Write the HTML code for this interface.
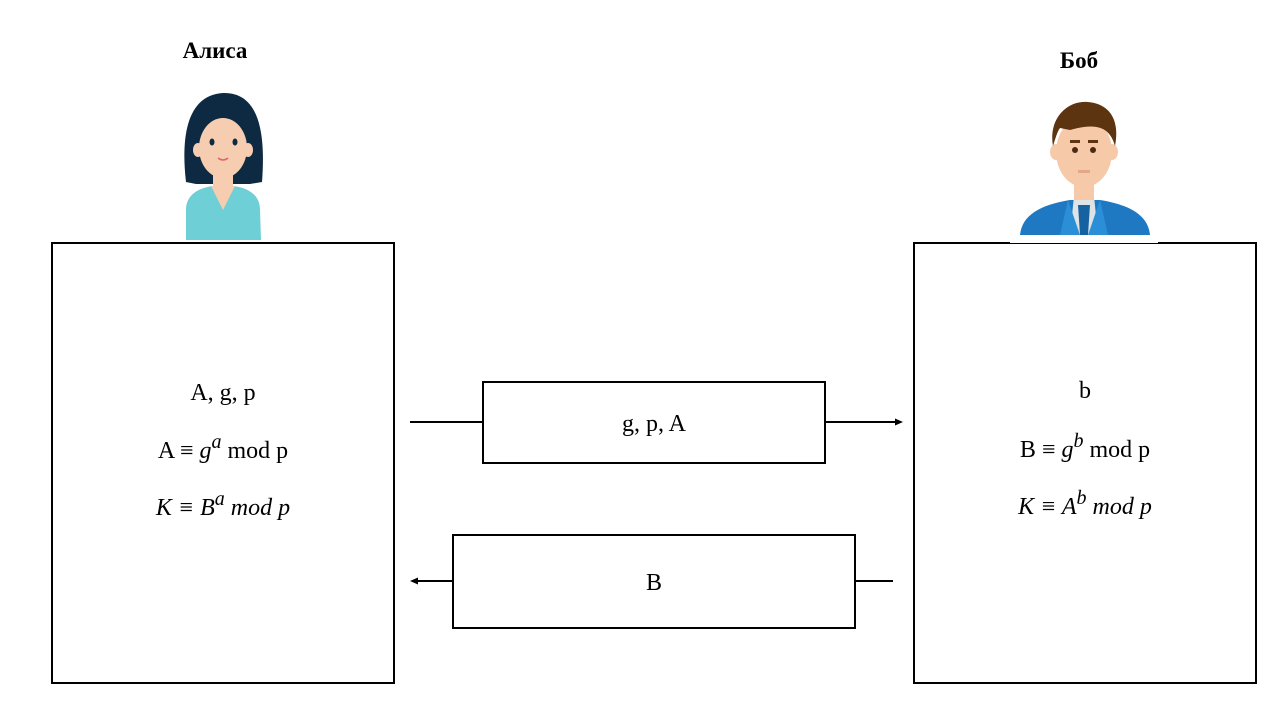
<!DOCTYPE html>
<html><head><meta charset="utf-8"><style>
html,body{margin:0;padding:0;background:#fff;width:1280px;height:720px;overflow:hidden}
svg text{font-family:"Liberation Serif",serif;fill:#000}
</style></head><body>
<svg width="1280" height="720" viewBox="0 0 1280 720" xmlns="http://www.w3.org/2000/svg">
<g fill="none" stroke="#000" stroke-width="2">
<rect x="52" y="243" width="342" height="440"/>
<rect x="914" y="243" width="342" height="440"/>
<rect x="483" y="382" width="342" height="81"/>
<rect x="453" y="535" width="402" height="93"/>
<line x1="410" y1="422" x2="483" y2="422"/>
<line x1="825" y1="422" x2="896" y2="422"/>
<line x1="855" y1="581" x2="893" y2="581"/>
<line x1="453" y1="581" x2="417" y2="581"/>
</g>
<polygon points="903,422 895,418.5 895,425.5" fill="#000"/>
<polygon points="410,581 418,577.5 418,584.5" fill="#000"/>

<text x="215" y="58" font-size="23" font-weight="bold" text-anchor="middle">Алиса</text>
<text x="1079" y="68" font-size="23" font-weight="bold" text-anchor="middle">Боб</text>

<!-- Alice -->
<g>
<path d="M186 182 C180 130 190 95 223 93 C258 92 266 130 262 182 L250 184 L196 184 Z" fill="#0d2a42"/>
<rect x="213" y="168" width="20" height="22" fill="#f6cdb0"/>
<path d="M186 240 L186 210 C186 195 198 188 213 186 L233 186 C250 188 260 196 260 210 L261 240 Z" fill="#6ecfd6"/>
<path d="M211 186 L223 210 L235 186 Z" fill="#f6cdb0"/>
<ellipse cx="223" cy="148" rx="24" ry="30" fill="#f6cdb0"/>
<ellipse cx="198" cy="150" rx="5" ry="7" fill="#f6cdb0"/>
<ellipse cx="248" cy="150" rx="5" ry="7" fill="#f6cdb0"/>
<path d="M199 140 C205 112 225 110 250 132 C245 110 235 100 220 102 C205 104 197 120 199 140Z" fill="#0d2a42"/>
<ellipse cx="212" cy="142" rx="2.5" ry="3.5" fill="#0d2a42"/>
<ellipse cx="235" cy="142" rx="2.5" ry="3.5" fill="#0d2a42"/>
<path d="M218 158 Q223 162 228 158" stroke="#d66" stroke-width="1.5" fill="none"/>
</g>

<!-- Bob -->
<g>
<rect x="1010" y="236" width="148" height="7" fill="#fff"/>
<path d="M1020 235 C1022 215 1040 205 1070 200 L1100 200 C1130 205 1148 215 1150 235 Z" fill="#1e78c2"/>
<path d="M1074 196 L1094 196 L1098 235 L1070 235 Z" fill="#dfe3e6"/>
<rect x="1074" y="180" width="20" height="20" fill="#f6c9a8"/>
<path d="M1078 205 L1090 205 L1088 235 L1080 235 Z" fill="#1662a0"/>
<path d="M1068 200 L1080 235 L1060 235 Z" fill="#2b8fd8"/>
<path d="M1100 200 L1088 235 L1108 235 Z" fill="#2b8fd8"/>
<ellipse cx="1084" cy="152" rx="28" ry="35" fill="#f6c9a8"/>
<ellipse cx="1056" cy="152" rx="6" ry="8" fill="#f6c9a8"/>
<ellipse cx="1112" cy="152" rx="6" ry="8" fill="#f6c9a8"/>
<path d="M1053 146 C1048 118 1068 100 1088 102 C1110 104 1120 120 1115 146 C1110 128 1098 122 1070 130 L1060 128 C1057 132 1055 140 1053 146Z" fill="#5c3410"/>
<rect x="1070" y="140" width="10" height="3" fill="#5c3410"/>
<rect x="1088" y="140" width="10" height="3" fill="#5c3410"/>
<circle cx="1075" cy="150" r="3" fill="#4a2a10"/>
<circle cx="1093" cy="150" r="3" fill="#4a2a10"/>
<rect x="1078" y="170" width="12" height="3" fill="#e3a88a"/>
</g>

<g font-size="24" text-anchor="middle">
<text x="223" y="400">A, g, p</text>
<text x="223" y="458">A ≡ <tspan font-style="italic">g</tspan><tspan font-style="italic" dy="-10" font-size="20">a</tspan><tspan dy="10"> mod p</tspan></text>
<text x="223" y="515" font-style="italic">K ≡ B<tspan dy="-10" font-size="20">a</tspan><tspan dy="10"> mod p</tspan></text>
<text x="1085" y="398">b</text>
<text x="1085" y="457">B ≡ <tspan font-style="italic">g</tspan><tspan font-style="italic" dy="-10" font-size="20">b</tspan><tspan dy="10"> mod p</tspan></text>
<text x="1085" y="514" font-style="italic">K ≡ A<tspan dy="-10" font-size="20">b</tspan><tspan dy="10"> mod p</tspan></text>
<text x="654" y="431">g, p, A</text>
<text x="654" y="590">B</text>
</g>
</svg>
</body></html>
